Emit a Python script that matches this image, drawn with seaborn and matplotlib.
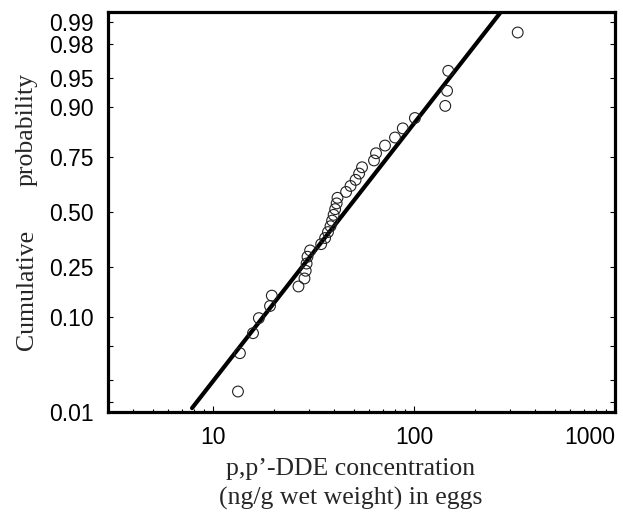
from statistics import NormalDist
import numpy as np
import pandas as pd
import seaborn as sns
import matplotlib.pyplot as plt
from matplotlib.ticker import LogLocator, NullFormatter, FixedLocator

# p,p'-DDE in eggs (ng/g wet weight), sorted, with plotting positions
dde = [13.3, 13.6, 15.8, 16.9, 19.2, 19.6, 26.6, 28.5, 28.9, 29.2,
       29.5, 30.4, 34.5, 36.1, 37.3, 38.4, 39.1, 39.8, 40.5, 41.2,
       41.6, 45.9, 48.3, 51.2, 53.3, 55.1, 63.2, 64.7, 71.7, 80.4,
       87.9, 101.0, 143.0, 146.0, 148.0, 328.0]
cum_prob = [0.014, 0.042, 0.069, 0.097, 0.125, 0.153, 0.181, 0.208, 0.236, 0.264,
            0.292, 0.319, 0.347, 0.375, 0.403, 0.431, 0.458, 0.486, 0.514, 0.542,
            0.569, 0.597, 0.625, 0.653, 0.681, 0.708, 0.736, 0.764, 0.792, 0.819,
            0.847, 0.875, 0.903, 0.931, 0.958, 0.986]

# fitted lognormal (log10 scale)
fit_gmean = 45.3
fit_sd = 0.317
fit_z = [-2.40, 2.60]

prob_ticks = [0.99, 0.98, 0.95, 0.90, 0.75, 0.50, 0.25, 0.10, 0.05, 0.02, 0.01]
prob_labels = ['0.99', '0.98', '0.95', '0.90', '0.75', '0.50', '0.25', '0.10', '', '', '']

nd = NormalDist()
df = pd.DataFrame({'dde': dde, 'z': [nd.inv_cdf(p) for p in cum_prob]})
fit = pd.DataFrame({'z': fit_z})
fit['dde'] = 10 ** (np.log10(fit_gmean) + fit_sd * fit['z'])

sns.set_style('ticks')
plt.rcParams['font.family'] = ['Liberation Sans', 'DejaVu Sans']

fig = plt.figure(figsize=(6.23, 5.14), dpi=100)
ax = fig.add_axes([108 / 623, 1 - 412 / 514, (615 - 108) / 623, 400 / 514])

sns.lineplot(data=fit, x='dde', y='z', color='black', lw=3, ax=ax, sort=False)
sns.scatterplot(data=df, x='dde', y='z', ax=ax, s=60, facecolor='none',
                edgecolor='#222222', linewidth=0.8, zorder=3)

ax.set_xscale('log')
ax.set_xlim(3, 1000)
ylo, yhi = -2.448, 2.448
ax.set_ylim(ylo, yhi)

ax.xaxis.set_major_locator(FixedLocator([10, 100, 1000]))
xlabels = ax.set_xticklabels(['10', '100', '1000'])
xlabels[-1].set_ha('right')
ax.xaxis.set_minor_locator(LogLocator(base=10, subs=np.arange(2, 10)))
ax.xaxis.set_minor_formatter(NullFormatter())

ax.set_yticks([nd.inv_cdf(p) for p in prob_ticks] + [ylo])
ax.set_yticklabels(prob_labels + ['0.01'])

for s in ax.spines.values():
    s.set_linewidth(2.3)
    s.set_color('black')

ax.tick_params(axis='y', which='major', direction='in', length=3.6, width=0.8,
               left=True, right=True, labelsize=16.5, pad=10, colors='black')
ax.tick_params(axis='x', which='major', direction='in', length=4.5, width=0.8,
               top=False, labelsize=16.5, pad=10, colors='black')
ax.tick_params(axis='x', which='minor', direction='in', length=2.5, width=0.8,
               top=False, colors='black')

ax.set_xlabel('')
ax.set_ylabel('')

serif = ['Liberation Serif', 'DejaVu Serif']
fig.text(351 / 623, 1 - 475 / 514, 'p,p\u2019-DDE concentration', family=serif,
         fontsize=18.5, ha='center', va='baseline')
fig.text(351 / 623, 1 - 505 / 514, '(ng/g wet weight) in eggs', family=serif,
         fontsize=18.5, ha='center', va='baseline')
fig.text(33 / 623, 1 - 290 / 514, 'Cumulative', family=serif, fontsize=18.5,
         rotation=90, rotation_mode='anchor', ha='center', va='baseline')
fig.text(33 / 623, 1 - 130 / 514, 'probability', family=serif, fontsize=18.5,
         rotation=90, rotation_mode='anchor', ha='center', va='baseline')

fig.savefig('out.png', dpi=100)
